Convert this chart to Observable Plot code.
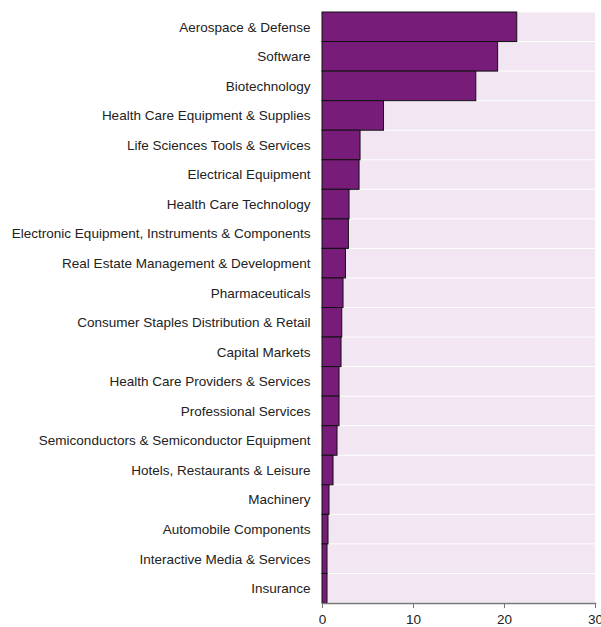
<!DOCTYPE html>
<html>
<head>
<meta charset="utf-8">
<script src="https://cdn.jsdelivr.net/npm/d3@7"></script>
<script src="https://cdn.jsdelivr.net/npm/@observablehq/plot@0.6"></script>
<style>
  html, body { margin: 0; padding: 0; background: #fff; overflow: hidden; }
  #chart svg { display: block; }
</style>
</head>
<body>
<div id="chart"></div>
<script>
const industries = [
  "Aerospace & Defense",
  "Software",
  "Biotechnology",
  "Health Care Equipment & Supplies",
  "Life Sciences Tools & Services",
  "Electrical Equipment",
  "Health Care Technology",
  "Electronic Equipment, Instruments & Components",
  "Real Estate Management & Development",
  "Pharmaceuticals",
  "Consumer Staples Distribution & Retail",
  "Capital Markets",
  "Health Care Providers & Services",
  "Professional Services",
  "Semiconductors & Semiconductor Equipment",
  "Hotels, Restaurants & Leisure",
  "Machinery",
  "Automobile Components",
  "Interactive Media & Services",
  "Insurance"
];
const values = [21.4, 19.3, 16.9, 6.76, 4.18, 4.07, 2.97, 2.9, 2.58, 2.31, 2.17, 2.09, 1.87, 1.87, 1.65, 1.21, 0.77, 0.66, 0.55, 0.55];
const xTicks = [0, 10, 20, 30];
const xMax = 30;

const data = industries.map((name, i) => ({name, value: values[i]}));

const chart = Plot.plot({
  width: 601,
  height: 627,
  marginLeft: 322,
  marginRight: 6,
  marginTop: 12,
  marginBottom: 24,
  style: {fontFamily: "'Liberation Sans', Arial, Helvetica, sans-serif", fontSize: "13.5px", color: "#222", overflow: "visible"},
  x: {domain: [0, xMax], ticks: xTicks, label: null},
  y: {domain: industries, padding: 0, round: false, label: null},
  marks: [
    Plot.barX(data, {y: "name", x1: 0, x2: xMax, fill: "#f1e6f1", insetTop: 0.5, insetBottom: 0.5}),
    Plot.barX(data, {y: "name", x: "value", fill: "#771d79", stroke: "#111", strokeWidth: 1}),
    Plot.frame({anchor: "bottom", stroke: "#777", strokeWidth: 1.5}),
    Plot.axisX({ticks: xTicks, tickSize: 5, tickPadding: 6, stroke: "#777", fontSize: 13.5, color: "#222", label: null}),
    Plot.axisY({tickSize: 0, tickPadding: 12, fontSize: 13.5, label: null})
  ]
});
document.getElementById("chart").appendChild(chart);
</script>
</body>
</html>
